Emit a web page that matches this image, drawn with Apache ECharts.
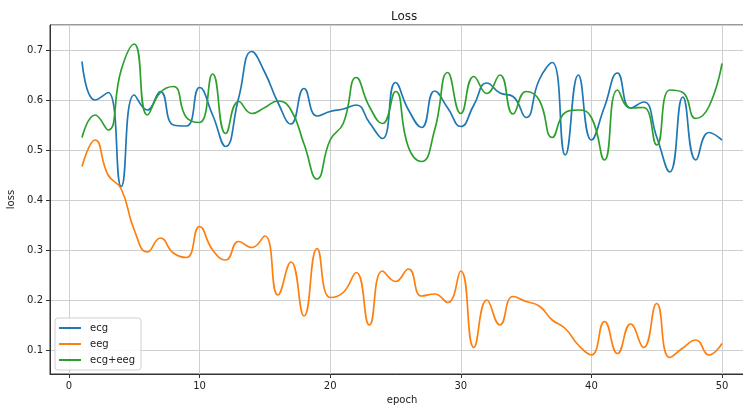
<!DOCTYPE html>
<html>
<head>
<meta charset="utf-8">
<script src="https://cdn.jsdelivr.net/npm/echarts@6/dist/echarts.min.js"></script>
<style>
  html, body { margin: 0; padding: 0; background: #fff; }
  #chart { width: 743px; height: 407px; }
</style>
</head>
<body>
<div id="chart"></div>
<script>
const epochs = [1, 2, 3, 4, 5, 6, 7, 8, 9, 10, 11, 12, 13, 14, 15, 16, 17, 18, 19, 20,
  21, 22, 23, 24, 25, 26, 27, 28, 29, 30, 31, 32, 33, 34, 35, 36, 37, 38, 39, 40,
  41, 42, 43, 44, 45, 46, 47, 48, 49, 50]

const ecg = [0.677, 0.600, 0.615, 0.427, 0.610, 0.580, 0.617, 0.550, 0.548, 0.625,
  0.570, 0.507, 0.605, 0.697, 0.655, 0.595, 0.552, 0.623, 0.568, 0.577,
  0.582, 0.590, 0.555, 0.523, 0.635, 0.580, 0.545, 0.618, 0.584, 0.547,
  0.590, 0.634, 0.614, 0.607, 0.565, 0.640, 0.675, 0.490, 0.650, 0.520,
  0.586, 0.654, 0.584, 0.596, 0.526, 0.456, 0.606, 0.480, 0.535, 0.520]

const eeg = [0.467, 0.520, 0.450, 0.422, 0.340, 0.296, 0.324, 0.294, 0.285, 0.347,
  0.300, 0.280, 0.317, 0.305, 0.328, 0.210, 0.276, 0.168, 0.303, 0.205,
  0.215, 0.255, 0.150, 0.258, 0.237, 0.262, 0.208, 0.212, 0.195, 0.258,
  0.105, 0.200, 0.150, 0.207, 0.197, 0.188, 0.160, 0.143, 0.110, 0.090,
  0.157, 0.093, 0.152, 0.105, 0.193, 0.085, 0.104, 0.120, 0.090, 0.113]

const ecgEeg = [0.525, 0.570, 0.540, 0.660, 0.712, 0.570, 0.615, 0.627, 0.565, 0.555,
  0.652, 0.533, 0.597, 0.573, 0.585, 0.598, 0.580, 0.512, 0.442, 0.520,
  0.553, 0.645, 0.587, 0.553, 0.617, 0.505, 0.477, 0.540, 0.655, 0.573,
  0.647, 0.613, 0.650, 0.572, 0.617, 0.600, 0.525, 0.575, 0.580, 0.565,
  0.480, 0.620, 0.584, 0.585, 0.510, 0.620, 0.615, 0.563, 0.587, 0.673]

const seriesNames = ['ecg', 'eeg', 'ecg+eeg']
const colors = ['#1f77b4', '#ff7f0e', '#2ca02c']

const font = 'DejaVu Sans'
const pair = (ys) => epochs.map((x, i) => [x, ys[i]])

const chart = echarts.init(document.getElementById('chart'), null, { renderer: 'canvas' })

chart.setOption({
  backgroundColor: '#fff',
  animation: false,
  color: colors,
  textStyle: { fontFamily: font },
  title: {
    text: 'Loss',
    left: 386,
    top: 6,
    textStyle: { fontFamily: font, fontSize: 12, fontWeight: 'normal', color: '#222' },
  },
  grid: {
    show: true,
    left: 50,
    right: -11,
    top: 25,
    bottom: 33,
    outerBoundsMode: 'none',
    containLabel: false,
    borderColor: '#333',
    borderWidth: 1,
  },
  legend: {
    orient: 'vertical',
    left: 55,
    top: 318,
    data: seriesNames,
    icon: 'rect',
    itemWidth: 22,
    itemHeight: 2,
    itemGap: 4,
    padding: [4, 6, 4, 4],
    backgroundColor: 'rgba(255,255,255,0.85)',
    borderColor: '#d0d0d0',
    borderWidth: 1,
    borderRadius: 3,
    textStyle: { fontFamily: font, fontSize: 10, color: '#222', lineHeight: 12, padding: [0, 0, 0, 4] },
  },
  xAxis: {
    type: 'value',
    min: -1.45,
    max: 52.45,
    splitNumber: 5,
    name: 'epoch',
    nameLocation: 'middle',
    nameGap: 21,
    nameTextStyle: { fontFamily: font, fontSize: 10, color: '#222' },
    axisLine: { show: true, onZero: false, lineStyle: { color: '#333' } },
    axisTick: { show: true, length: 4, lineStyle: { color: '#333' } },
    axisLabel: { fontFamily: font, fontSize: 10, color: '#222', margin: 7, showMinLabel: false, showMaxLabel: false },
    splitLine: { show: true, lineStyle: { color: '#cfcfcf', width: 1 } },
  },
  yAxis: {
    type: 'value',
    min: 0.052,
    max: 0.75,
    splitNumber: 5,
    name: 'loss',
    nameLocation: 'middle',
    nameRotate: 90,
    nameGap: 27,
    nameTextStyle: { fontFamily: font, fontSize: 10, color: '#222' },
    axisLine: { show: true, onZero: false, lineStyle: { color: '#333' } },
    axisTick: { show: true, length: 4, lineStyle: { color: '#333' } },
    axisLabel: {
      fontFamily: font, fontSize: 10, color: '#222', margin: 7,
      showMinLabel: false, showMaxLabel: false,
      formatter: (v) => v.toFixed(1),
    },
    splitLine: { show: true, lineStyle: { color: '#cfcfcf', width: 1 } },
  },
  series: [ecg, eeg, ecgEeg].map((ys, i) => ({
    name: seriesNames[i],
    type: 'line',
    data: pair(ys),
    smooth: 0.5,
    symbol: 'none',
    lineStyle: { width: 1.7, color: colors[i] },
    itemStyle: { color: colors[i] },
  })),
})
</script>
</body>
</html>
